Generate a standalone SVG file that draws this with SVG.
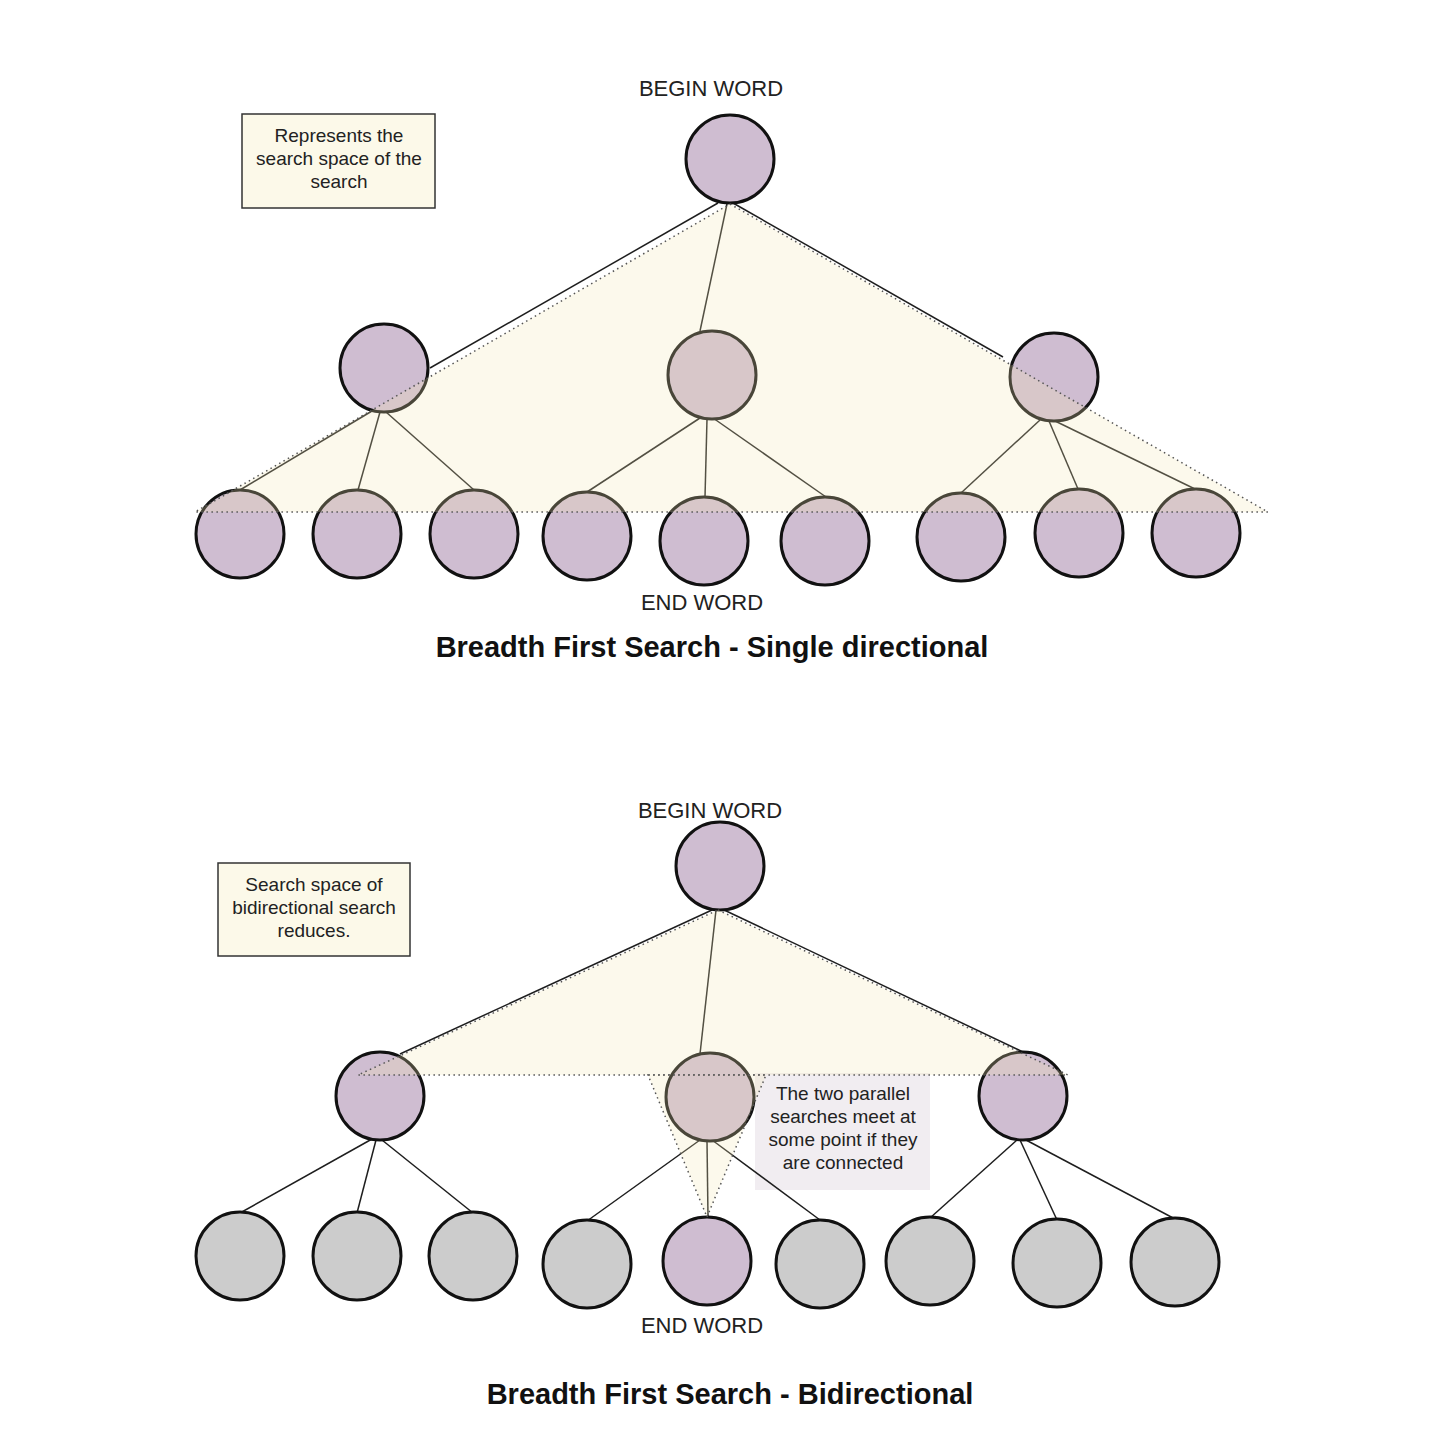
<svg xmlns="http://www.w3.org/2000/svg" width="1444" height="1446" viewBox="0 0 1444 1446">
<style>
.bg{fill:#ffffff}
.note{fill:#fcf9e9;stroke:#333;stroke-width:1.5}
.call{fill:#f1edf1;stroke:none}
.edge{stroke:#1e1e1e;stroke-width:1.5;fill:none}
.n{fill:#cfbdd1;stroke:#111;stroke-width:3}
.g{fill:#cccccc;stroke:#111;stroke-width:3}
.zone{fill:#f3e7b3;fill-opacity:0.25;stroke:#555;stroke-width:1.5;stroke-dasharray:1.5 3.5}
.t{font-family:"Liberation Sans",Arial,sans-serif;font-size:19px;fill:#222;text-anchor:middle}
.lbl{font-family:"Liberation Sans",Arial,sans-serif;font-size:22px;fill:#222;text-anchor:middle}
.title{font-family:"Liberation Sans",Arial,sans-serif;font-size:29px;font-weight:bold;fill:#111;text-anchor:middle}
</style>
<rect class="bg" x="0" y="0" width="1444" height="1446"/>

<g id="note-top"><rect class="note" x="242" y="114" width="193" height="94"/>
<text class="t" x="339" y="142">Represents the</text>
<text class="t" x="339" y="165">search space of the</text>
<text class="t" x="339" y="188">search</text></g>

<g id="note-bottom"><rect class="note" x="218" y="863" width="192" height="93"/>
<text class="t" x="314" y="891">Search space of</text>
<text class="t" x="314" y="914">bidirectional search</text>
<text class="t" x="314" y="937">reduces.</text></g>

<g id="callout"><rect class="call" x="755" y="1073" width="175" height="117"/></g>

<g id="connectors">
<line class="edge" x1="718" y1="203" x2="430" y2="368"/>
<line class="edge" x1="727" y1="204" x2="700" y2="331"/>
<line class="edge" x1="733" y1="203" x2="1003" y2="357"/>
<line class="edge" x1="372" y1="411" x2="240" y2="490"/>
<line class="edge" x1="380" y1="412" x2="358" y2="490"/>
<line class="edge" x1="386" y1="412" x2="474" y2="490"/>
<line class="edge" x1="700" y1="418" x2="587" y2="492"/>
<line class="edge" x1="707" y1="419" x2="705" y2="497"/>
<line class="edge" x1="713" y1="418" x2="826" y2="497"/>
<line class="edge" x1="1040" y1="420" x2="961" y2="493"/>
<line class="edge" x1="1049" y1="421" x2="1078" y2="489"/>
<line class="edge" x1="1055" y1="421" x2="1195" y2="489"/>

<line class="edge" x1="712" y1="910" x2="400" y2="1054"/>
<line class="edge" x1="716" y1="910" x2="700" y2="1054"/>
<line class="edge" x1="722" y1="909" x2="1023" y2="1052"/>
<line class="edge" x1="372" y1="1139" x2="240" y2="1213"/>
<line class="edge" x1="376" y1="1140" x2="357" y2="1213"/>
<line class="edge" x1="382" y1="1140" x2="473" y2="1213"/>
<line class="edge" x1="700" y1="1140" x2="587" y2="1221"/>
<line class="edge" x1="707" y1="1141" x2="708" y2="1218"/>
<line class="edge" x1="712" y1="1140" x2="820" y2="1220"/>
<line class="edge" x1="1017" y1="1140" x2="930" y2="1218"/>
<line class="edge" x1="1020" y1="1140" x2="1057" y2="1220"/>
<line class="edge" x1="1026" y1="1140" x2="1175" y2="1219"/>
</g>

<g id="top-root"><circle class="n" cx="730" cy="159" r="44"/></g>
<g id="top-m1"><circle class="n" cx="384" cy="368" r="44"/></g>
<g id="top-m2"><circle class="n" cx="712" cy="375" r="44"/></g>
<g id="top-m3"><circle class="n" cx="1054" cy="377" r="44"/></g>
<g id="top-l1"><circle class="n" cx="240" cy="534" r="44"/></g>
<g id="top-l2"><circle class="n" cx="357" cy="534" r="44"/></g>
<g id="top-l3"><circle class="n" cx="474" cy="534" r="44"/></g>
<g id="top-l4"><circle class="n" cx="587" cy="536" r="44"/></g>
<g id="top-l5"><circle class="n" cx="704" cy="541" r="44"/></g>
<g id="top-l6"><circle class="n" cx="825" cy="541" r="44"/></g>
<g id="top-l7"><circle class="n" cx="961" cy="537" r="44"/></g>
<g id="top-l8"><circle class="n" cx="1079" cy="533" r="44"/></g>
<g id="top-l9"><circle class="n" cx="1196" cy="533" r="44"/></g>

<g id="bot-root"><circle class="n" cx="720" cy="866" r="44"/></g>
<g id="bot-m1"><circle class="n" cx="380" cy="1096" r="44"/></g>
<g id="bot-m2"><circle class="n" cx="710" cy="1097" r="44"/></g>
<g id="bot-m3"><circle class="n" cx="1023" cy="1096" r="44"/></g>
<g id="bot-l1"><circle class="g" cx="240" cy="1256" r="44"/></g>
<g id="bot-l2"><circle class="g" cx="357" cy="1256" r="44"/></g>
<g id="bot-l3"><circle class="g" cx="473" cy="1256" r="44"/></g>
<g id="bot-l4"><circle class="g" cx="587" cy="1264" r="44"/></g>
<g id="bot-l5"><circle class="n" cx="707" cy="1261" r="44"/></g>
<g id="bot-l6"><circle class="g" cx="820" cy="1264" r="44"/></g>
<g id="bot-l7"><circle class="g" cx="930" cy="1261" r="44"/></g>
<g id="bot-l8"><circle class="g" cx="1057" cy="1263" r="44"/></g>
<g id="bot-l9"><circle class="g" cx="1175" cy="1262" r="44"/></g>

<g id="zones">
<polygon class="zone" points="730,204 1268,512 195,512"/>
<polygon class="zone" points="718,910 1068,1075 358,1075"/>
<polygon class="zone" points="648,1075 766,1075 707,1217"/>
</g>

<g id="labels">
<text class="lbl" x="711" y="96">BEGIN WORD</text>
<text class="lbl" x="702" y="610">END WORD</text>
<text class="title" x="712" y="657">Breadth First Search - Single directional</text>
<text class="lbl" x="710" y="818">BEGIN WORD</text>
<text class="lbl" x="702" y="1333">END WORD</text>
<text class="title" x="730" y="1404">Breadth First Search - Bidirectional</text>
<text class="t" x="843" y="1100">The two parallel</text>
<text class="t" x="843" y="1123">searches meet at</text>
<text class="t" x="843" y="1146">some point if they</text>
<text class="t" x="843" y="1169">are connected</text>
</g>
</svg>
